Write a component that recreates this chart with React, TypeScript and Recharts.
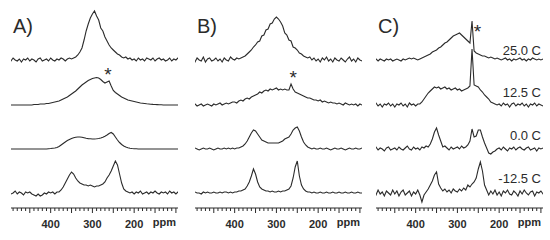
import React from 'react'
import { LineChart, Line, XAxis, YAxis, ReferenceDot } from 'recharts'

// chemical shift grid (ppm), shared by every spectrum
const PPM = [
  500, 495, 490, 485, 480, 475, 470, 465, 460, 455,
  450, 445, 440, 435, 430, 425, 420, 415, 410, 405,
  400, 395, 390, 385, 380, 375, 370, 365, 360, 355,
  350, 345, 340, 335, 330, 325, 320, 315, 310, 305,
  300, 295, 290, 285, 280, 275, 270, 265, 260, 255,
  250, 245, 240, 235, 230, 225, 220, 215, 210, 205,
  200, 195, 190, 185, 180, 175, 170, 165, 160, 155,
  150, 145, 140, 135, 130, 125, 120, 115, 110, 105,
  100, 95, 90,
]

const TICKS = [
  490, 480, 470, 460, 450, 440, 430, 420, 410, 400,
  390, 380, 370, 360, 350, 340, 330, 320, 310, 300,
  290, 280, 270, 260, 250, 240, 230, 220, 210, 200,
  190, 180, 170, 160, 150, 140, 130, 120, 110, 100,
]
const TICK_LABELS = [400, 300, 200]
const TEMPS = ['25.0 C', '12.5 C', '0.0 C', '-12.5 C']

// panel A
const A1 = [
  1, -1, 2, 0, -1, 1, -2, 1, 0, 2,
  -1, 1, 0, -2, 1, 2, -1, 0, 1, -1,
  2, 0, -1, 1, 0, 2, 1, -1, 1, 2,
  1, 2, 3, 5, 8, 12, 20, 29, 36, 42,
  46, 49, 44, 40, 32, 29, 23, 19, 15, 12,
  10, 8, 6, 5, 3, 2, 3, 1, 2, 0,
  1, -1, 2, 0, 1, -1, 2, 1, 0, 2,
  -1, 1, 2, 0, 1, -1, 0, 2, -1, 1,
  0, 2, 1,
]
const A2 = [
  0, 0, 0, 0, 0, 0, 0, 0, 0, 0,
  0, 0, 0.5, 0.5, 0.5, 1, 1, 1, 1.5, 1.5,
  2, 2.5, 3, 3.5, 4, 5, 6, 7, 8, 9.5,
  11, 12.5, 14, 16, 18, 20, 21.5, 23, 24.5, 25.5,
  26.5, 27, 27.5, 27, 25.5, 23.5, 22, 23, 24, 19,
  14.5, 12.5, 11, 9.5, 8, 7, 6, 5, 4.5, 4,
  3.5, 3, 2.5, 2, 1.8, 1.5, 1.2, 1, 0.8, 0.6,
  0.5, 0.4, 0.3, 0.2, 0, 0, 0, 0, 0, 0,
  0, 0, 0,
]
const A3 = [
  0, 0, 0, 0, 0, 0, 0, 0, 0, 0,
  0, 0, 0, 0, 0, 0, 0, 0, 0, 0.3,
  0.5, 0.8, 1, 1.5, 2.5, 4, 5.5, 7, 8.5, 9.5,
  10.5, 11.2, 11.8, 12, 12, 11.8, 11.3, 10.8, 10.4, 10.2,
  10, 10, 10.2, 10.5, 11, 11.8, 12.8, 14, 15.5, 16.5,
  15, 12, 9, 6.5, 4.5, 3, 2, 1.3, 0.8, 0.5,
  0.3, 0.2, 0, 0, 0, 0, 0, 0, 0, 0,
  0, 0, 0, 0, 0, 0, 0, 0, 0, 0,
  0, 0, 0,
]
const A4 = [
  1, -1, 0, 2, -1, 1, 0, -2, 1, 0,
  1, -1, -2, -3, -1, -3, -2, 0, -1, 1,
  0, 1, -1, 1, 1, 3, 6, 10, 14, 18,
  21, 19, 15, 12, 10, 9, 8, 8, 7, 8,
  7, 6, 7, 7, 8, 9, 11, 15, 18, 22,
  27, 32, 28, 19, 10, 4, 2, 1, 0, 1,
  -1, 1, 0, 2, -1, 0, 1, -1, 1, 0,
  2, 0, -1, 1, 0, 1, -1, 2, 0, 1,
  -1, 1, 0,
]

// panel B
const B1 = [
  1, -2, 2, 0, -1, 3, -2, 1, 2, -1,
  0, 2, -1, 1, -2, 2, 0, -1, 3, 1,
  0, 2, 1, 2, 3, 4, 6, 8, 10, 13,
  15, 18, 19, 24, 25, 30, 31, 36, 37, 41,
  43, 41, 38, 34, 27, 25, 20, 19, 13, 12,
  10, 7, 6, 4, 3, 2, 3, 0, 2, -1,
  1, -2, 2, 0, 3, -1, 1, -2, 2, 0,
  -1, 2, 0, -2, 1, 3, -1, 1, -2, 2,
  0, -1, 2,
]
const B2 = [
  0, 1, -1, 0, 1, -1, 0, 1, 0, -1,
  1, 0, 1, 2, 0, 1, 2, 1, 2, 3,
  3, 2, 4, 5, 4, 6, 7, 6, 8, 9,
  10, 11, 13, 12, 14, 15, 14, 16, 15, 16,
  17, 15, 16, 15, 16, 15, 15, 21, 16, 13,
  12, 11, 10, 9, 8, 7, 7, 6, 5, 5,
  4, 5, 3, 4, 3, 2, 3, 2, 2, 1,
  2, 1, 0, 2, 1, 0, 1, 0, 1, -1,
  1, 0, 0,
]
const B3 = [
  0, 1, 0, -1, 0, 1, 0, 0, 1, 0,
  -1, 0, 1, 0, 0, 1, 0, 1, 0, 1,
  0, 1, 1, 2, 3, 5, 8, 12, 16, 19,
  18, 15, 12, 9, 8, 7, 6, 6, 6, 6,
  6, 6, 7, 8, 10, 11, 12, 15, 19, 21,
  22, 18, 12, 7, 4, 2, 1, 0, 1, 0,
  0, 1, 0, 0, 1, 0, -1, 0, 1, 0,
  0, 1, 0, -1, 0, 1, 0, 0, 1, 0,
  0, 1, 0,
]
const B4 = [
  0, 1, 0, 0, -1, 1, 0, 1, 0, 0,
  1, 0, 0, 1, 0, 1, 1, 0, 1, 0,
  1, 1, 2, 2, 3, 4, 7, 11, 17, 24,
  19, 11, 6, 4, 3, 2, 2, 1, 2, 1,
  1, 2, 1, 2, 2, 3, 4, 7, 15, 26,
  32, 17, 8, 4, 2, 1, 1, 0, 1, 0,
  0, 1, 0, 0, 1, 0, 0, 1, 0, 0,
  1, 0, 0, 1, 0, 0, 1, 0, 0, 1,
  0, 0, 1,
]

// panel C
const C1 = [
  0, 1, -1, 1, 0, -1, 1, 0, 1, -1,
  0, 1, 0, -1, 1, 0, 1, 2, 1, 2,
  1, 0, 1, 2, 3, 4, 5, 6, 8, 9,
  10, 12, 13, 15, 17, 18, 20, 22, 24, 25,
  26, 27, 25, 23, 21, 19, 17, 39, 9, 7,
  6, 5, 4, 4, 3, 2, 3, 2, 1, 2,
  1, 0, 1, 2, 0, 1, -1, 1, 0, 1,
  2, 0, 1, -1, 1, 0, 2, 1, 0, 1,
  0, 1, -1,
]
const C2 = [
  0, 2, -1, 1, -2, 1, 0, 2, -1, 1,
  -2, 1, 0, 2, -1, 1, -2, 2, 0, 1,
  -1, 1, 1, 3, 6, 9, 12, 14, 16, 18,
  17, 18, 16, 17, 18, 16, 17, 15, 16, 17,
  15, 16, 14, 15, 16, 17, 19, 56, 20, 19,
  18, 15, 13, 10, 8, 6, 3, 2, 1, 0,
  1, -1, 2, 0, 1, -2, 1, 2, -1, 1,
  0, 2, -1, 1, -2, 1, 0, 2, -1, 1,
  0, -1, 1,
]
const C3 = [
  0, 2, -1, 1, 0, -2, 1, 2, -1, 0,
  1, -1, 2, 0, -1, 1, 3, 0, -1, 2,
  0, 1, -1, 2, 1, 3, 2, 5, 10, 17,
  21, 14, 8, 2, 3, 1, -1, 2, 0, 1,
  2, 0, 3, 1, 2, 4, 8, 20, 12, 13,
  19, 19, 12, 6, 1, -4, -5, -3, -2, 0,
  1, -1, 2, 0, -2, 1, 0, 2, -1, 1,
  2, 0, -1, 1, 2, -1, 0, 1, -2, 1,
  0, 1, -1,
]
const C4 = [
  2, -2, 3, -1, 1, -3, 2, 0, -2, 3,
  -1, 2, -3, 1, 3, -2, 0, 2, -3, 1,
  -1, 3, -2, -9, -2, 1, 4, 8, 12, 18,
  21, 9, 5, 2, 4, 1, 3, 0, 4, 2,
  1, 4, 2, 5, 3, 8, 6, 9, 11, 15,
  24, 31, 22, 8, 3, -2, 2, -1, 3, -2,
  1, -3, 2, 0, 3, -1, -2, 2, 0, -3,
  2, -1, 3, 0, -2, 1, 2, -3, 1, 0,
  2, -1, 1,
]

// vertical stacking of the four spectra in every panel
const OFFSETS = [148, 103, 59, 15]
const PLOT_H = 208
const CHART_W = 167
const INK = '#2b2b2b'
const FONT = '"Liberation Sans", Arial, sans-serif'

const PANELS = [
  { name: 'A)', left: 11, traces: [A1, A2, A3, A4], star: { ppm: 263, y: 134 } },
  { name: 'B)', left: 195, traces: [B1, B2, B3, B4], star: { ppm: 260, y: 131 } },
  { name: 'C)', left: 376, traces: [C1, C2, C3, C4], star: { ppm: 252, y: 177 } },
]

function buildRows(traces: number[][]) {
  return PPM.map((p, i) => {
    const row: any = { ppm: p }
    traces.forEach((t, k) => {
      row['s' + k] = t[i] + OFFSETS[k]
    })
    return row
  })
}

const AxisTick = ({ x, y, payload }: any) => {
  const v = payload.value
  const major = v % 50 === 0
  return (
    <g>
      <line x1={x} x2={x} y1={y} y2={y + (major ? 5 : 3)} stroke={INK} strokeWidth={1} />
      {TICK_LABELS.includes(v) && (
        <text x={x} y={y + 20} textAnchor="middle" fontSize={11} fontWeight="bold" fill={INK} fontFamily={FONT}>
          {v}
        </text>
      )}
    </g>
  )
}

function Panel({ panel }: { panel: typeof PANELS[number] }) {
  const rows = buildRows(panel.traces)
  return (
    <div style={{ position: 'absolute', left: panel.left, top: 0 }}>
      <LineChart width={CHART_W} height={240} data={rows} margin={{ top: 0, right: 0, left: 0, bottom: 0 }}>
        <XAxis
          dataKey="ppm"
          type="number"
          domain={[95, 495]}
          reversed
          allowDataOverflow
          ticks={TICKS}
          interval={0}
          tick={<AxisTick />}
          tickLine={false}
          tickSize={0}
          tickMargin={0}
          height={32}
          axisLine={{ stroke: INK, strokeWidth: 1 }}
        />
        <YAxis hide type="number" domain={[0, PLOT_H]} allowDataOverflow />
        {panel.traces.map((_, k) => (
          <Line
            key={k}
            type="linear"
            dataKey={'s' + k}
            stroke={INK}
            strokeWidth={1.1}
            dot={false}
            isAnimationActive={false}
          />
        ))}
        <ReferenceDot
          x={panel.star.ppm}
          y={panel.star.y}
          r={0}
          fill="none"
          stroke="none"
          label={{ value: '*', position: 'center', fontSize: 19, fill: INK, fontFamily: FONT }}
        />
      </LineChart>
    </div>
  )
}

export default function App() {
  return (
    <div style={{ position: 'absolute', left: 0, top: 0, width: 550, height: 240, background: '#fff', fontFamily: FONT }}>
      {PANELS.map((p) => (
        <Panel key={p.name} panel={p} />
      ))}
      <svg width={550} height={240} style={{ position: 'absolute', left: 0, top: 0, pointerEvents: 'none' }}>
        {PANELS.map((p) => (
          <g key={p.name}>
            <text x={p.left + 2} y={33} fontSize={20} fill={INK} fontFamily={FONT}>
              {p.name}
            </text>
            <text x={p.left + 165} y={226} textAnchor="end" fontSize={11} fontWeight="bold" fill={INK} fontFamily={FONT}>
              ppm
            </text>
          </g>
        ))}
        {TEMPS.map((t, k) => (
          <text key={t} x={541} y={[55, 97, 140, 183][k]} textAnchor="end" fontSize={13} fill={INK} fontFamily={FONT}>
            {t}
          </text>
        ))}
      </svg>
    </div>
  )
}
